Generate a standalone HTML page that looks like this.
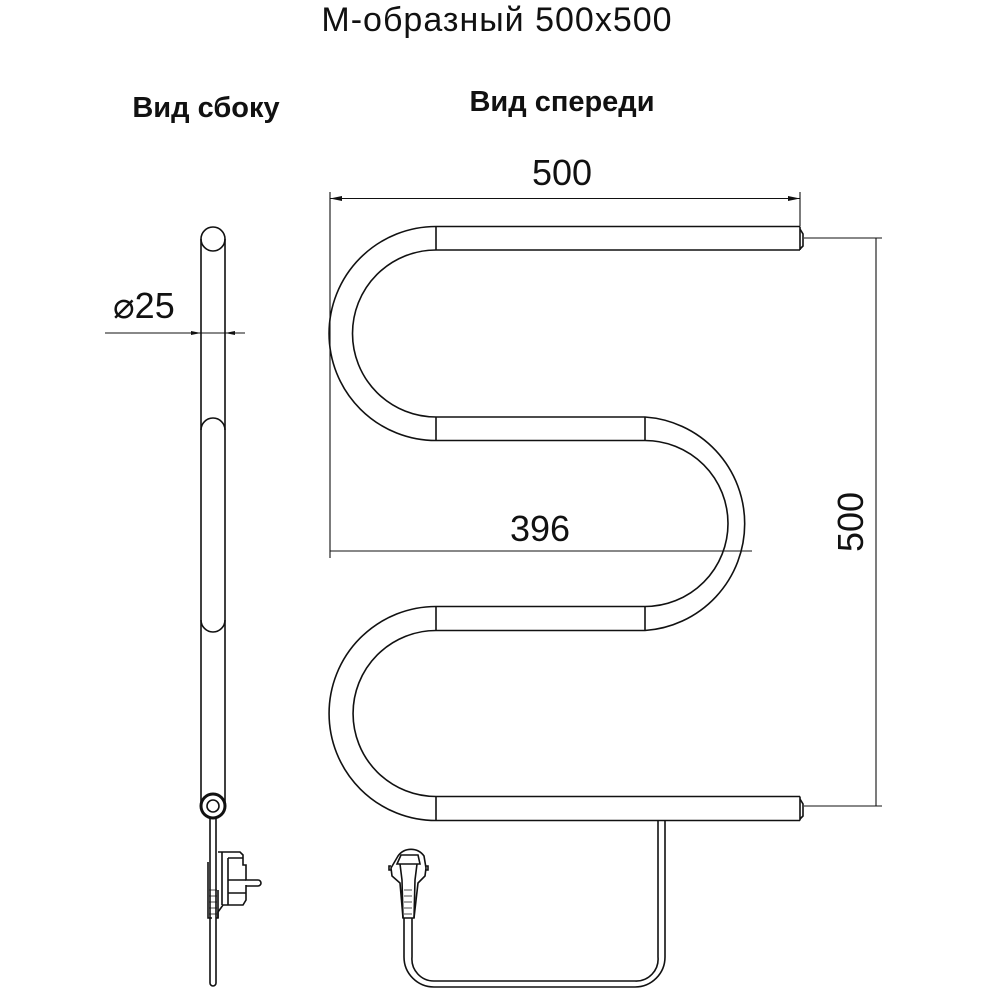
<!DOCTYPE html>
<html><head><meta charset="utf-8"><style>
body{margin:0;background:#fff}
svg{display:block}
text{font-family:"Liberation Sans",sans-serif;fill:#111}
</style></head><body>
<svg width="992" height="992" viewBox="0 0 992 992" xmlns="http://www.w3.org/2000/svg">
<g fill="none" stroke="#111" stroke-width="1.6">
<path d="M800 226.5 L436 226.5 A107 107 0 0 0 436 440.5 L645 440.5 A83 83 0 0 1 645 606.5 L436 606.5 A107 107 0 0 0 436 820.5 L800 820.5"/>
<path d="M800 250 L436 250 A83.5 83.5 0 0 0 436 417 L645 417 A107 107 0 0 1 645 630.5 L436 630.5 A83 83 0 0 0 436 796.5 L800 796.5"/>
<line x1="800" y1="226.5" x2="800" y2="250"/>
<line x1="800" y1="796.5" x2="800" y2="820.5"/>
<line x1="436" y1="226.5" x2="436" y2="250"/>
<line x1="436" y1="417" x2="436" y2="440.5"/>
<line x1="645" y1="417" x2="645" y2="440.5"/>
<line x1="436" y1="606.5" x2="436" y2="630.5"/>
<line x1="645" y1="606.5" x2="645" y2="630.5"/>
<line x1="436" y1="796.5" x2="436" y2="820.5"/>
<path d="M800 229 L803 234 L803 246 L800 249"/>
<path d="M800 799 L803 804 L803 816 L800 819"/>
<g stroke-width="1.1">
<line x1="330" y1="192" x2="330" y2="558"/>
<line x1="800" y1="192" x2="800" y2="226"/>
<line x1="330" y1="198.5" x2="800" y2="198.5"/>
<line x1="330" y1="551" x2="752" y2="551"/>
<line x1="804" y1="238" x2="882" y2="238"/>
<line x1="804" y1="806" x2="882" y2="806"/>
<line x1="876" y1="238" x2="876" y2="806"/>
<line x1="105" y1="333" x2="245" y2="333"/>
</g>
<path d="M201 239 L201 807 M225 239 L225 807"/>
<circle cx="213" cy="239" r="12"/>
<path d="M201 430 A12 12 0 0 1 225 430"/>
<path d="M201 620 A12 12 0 0 0 225 620"/>
<circle cx="213" cy="806" r="12" stroke-width="3"/>
<circle cx="213" cy="806" r="6"/>
<path d="M210 818 L210 983 A3 3 0 0 0 216 983 L216 818"/>
<path d="M218 852 L240 852 L243 855 L243 865 L246 865 L246 880 L258 880 A3 3 0 0 1 258 886 L246 886 L246 885 L246 900 L243 905 L223 905 L218 912 L218 918 L216 918"/>
<path d="M222 852 L222 905 M228 858 L243 858 M228 858 L228 905 M228 880 L246 880 M228 893 L246 893"/>
<path d="M208 862 L208 918 L212 918 M218 918 L218 890"/>
<path d="M398 856 A16 16 0 0 1 424 856 L426 868 L425 876 L418 883 L414 918 L403 918 L400 883 L392 876 L391 868 Z"/>
<path d="M401 855 L418 855 L420 864 L397 864 Z"/>
<path d="M400 864 L402 880 L403 918 M417 864 L415 880 L414 918"/>
<path d="M391 866 L389 866 L389 870 L391 870 M426 866 L428 866 L428 870 L426 870"/>
<path d="M404 918 L404 957 A30 30 0 0 0 434 987 L635 987 A30 30 0 0 0 665 957 L665 820"/>
<path d="M412 918 L412 957 A22 22 0 0 0 434 981 L635 981 A22 22 0 0 0 658 957 L658 820"/>
</g>
<g fill="#111">
<path d="M330 198.5 L342 196 L342 201 Z"/>
<path d="M800 198.5 L788 196 L788 201 Z"/>
<path d="M201 333 L191 331 L191 335 Z"/>
<path d="M225 333 L235 331 L235 335 Z"/>
</g>
<g stroke="#111" stroke-width="0.8">
<path d="M404 890 L412 890 M404 896 L412 896 M404 902 L412 902 M404 908 L412 908 M404 914 L412 914"/>
<path d="M209 890 L217 890 M209 896 L217 896 M209 902 L217 902 M209 908 L217 908 M209 914 L217 914"/>
</g>
<text x="497" y="31" font-size="34" text-anchor="middle" letter-spacing="1">М-образный 500x500</text>
<text x="206" y="117" font-size="29" text-anchor="middle" font-weight="bold">Вид сбоку</text>
<text x="562" y="111" font-size="29" text-anchor="middle" font-weight="bold">Вид спереди</text>
<text x="562" y="185" font-size="36" text-anchor="middle">500</text>
<text x="540" y="541" font-size="36" text-anchor="middle">396</text>
<text x="0" y="0" font-size="36" text-anchor="middle" transform="translate(863 522) rotate(-90)">500</text>
<text x="113" y="318" font-size="36">⌀25</text>
</svg>
</body></html>
